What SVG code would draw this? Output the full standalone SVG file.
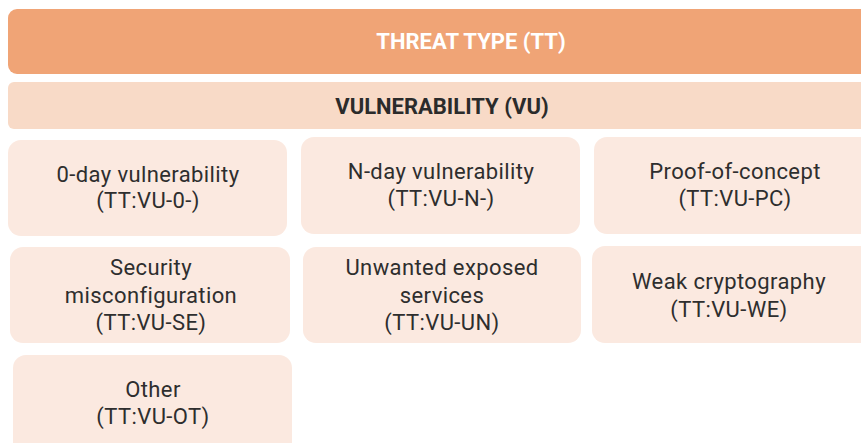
<svg xmlns="http://www.w3.org/2000/svg" width="861" height="443" viewBox="0 0 861 443">
  <style>
    .tt { fill: #F0A476; }
    .vu { fill: #F8DAC7; }
    .card { fill: #FBE9E0; }
    .head { font-family: Roboto, "Liberation Sans", sans-serif; font-weight: bold; font-size: 22px; text-anchor: middle; }
    .lbl { font-family: Roboto, "Liberation Sans", sans-serif; font-size: 22px; letter-spacing: 0.4px; fill: #2e2e2e; text-anchor: middle; }
  </style>
  <rect width="861" height="443" fill="#ffffff"/>

  <g id="threat-type">
    <rect class="tt" x="8" y="9" width="940" height="65" rx="9"/>
    <text class="head" x="471" y="49" fill="#ffffff">THREAT TYPE (TT)</text>
  </g>

  <g id="vulnerability">
    <rect class="vu" x="8" y="82" width="940" height="47" rx="6"/>
    <text class="head" x="442" y="114" fill="#2b2b2b">VULNERABILITY (VU)</text>
  </g>

  <g id="vu-0">
    <rect class="card" x="8" y="140" width="279" height="96" rx="13"/>
    <text class="lbl" x="148" y="182">0-day vulnerability</text>
    <text class="lbl" x="148" y="208">(TT:VU-0-)</text>
  </g>

  <g id="vu-n">
    <rect class="card" x="301" y="137" width="279" height="97" rx="13"/>
    <text class="lbl" x="441" y="179">N-day vulnerability</text>
    <text class="lbl" x="441" y="206">(TT:VU-N-)</text>
  </g>

  <g id="vu-pc">
    <rect class="card" x="594" y="137" width="290" height="97" rx="13"/>
    <text class="lbl" x="735" y="179">Proof-of-concept</text>
    <text class="lbl" x="735" y="206">(TT:VU-PC)</text>
  </g>

  <g id="vu-se">
    <rect class="card" x="10" y="247" width="280" height="96" rx="13"/>
    <text class="lbl" x="151" y="275">Security</text>
    <text class="lbl" x="151" y="303">misconfiguration</text>
    <text class="lbl" x="151" y="330">(TT:VU-SE)</text>
  </g>

  <g id="vu-un">
    <rect class="card" x="303" y="247" width="278" height="96" rx="13"/>
    <text class="lbl" x="442" y="275">Unwanted exposed</text>
    <text class="lbl" x="442" y="303">services</text>
    <text class="lbl" x="442" y="330">(TT:VU-UN)</text>
  </g>

  <g id="vu-we">
    <rect class="card" x="592" y="246" width="290" height="97" rx="13"/>
    <text class="lbl" x="729" y="289">Weak cryptography</text>
    <text class="lbl" x="729" y="317">(TT:VU-WE)</text>
  </g>

  <g id="vu-ot">
    <rect class="card" x="13" y="355" width="279" height="110" rx="13"/>
    <text class="lbl" x="153" y="397">Other</text>
    <text class="lbl" x="153" y="424">(TT:VU-OT)</text>
  </g>

  <g id="connectors"/>
</svg>
